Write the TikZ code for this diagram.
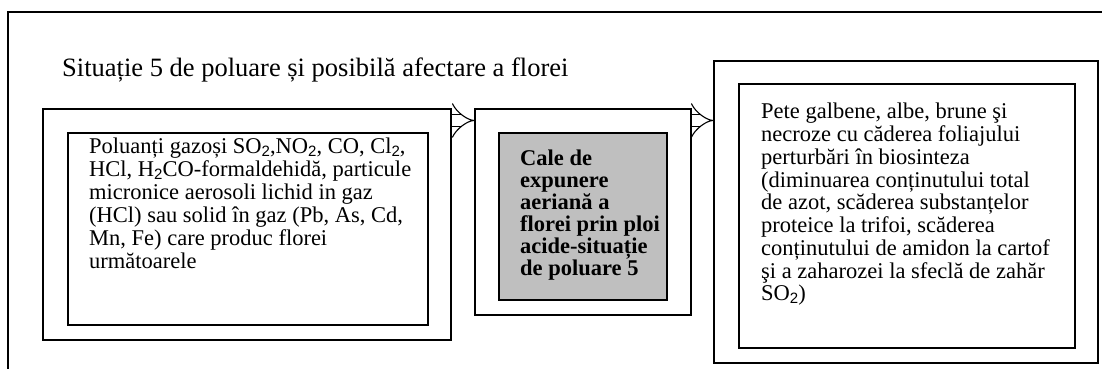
\documentclass[tikz,border=0pt]{standalone}
\usepackage{fontspec}
\setmainfont{Liberation Serif}
\newfontfamily\subfont{Liberation Sans}
\usetikzlibrary{arrows.meta}
\newcommand\chemsub[1]{\raisebox{-0.25ex}{\subfont\fontsize{15}{15}\selectfont #1}}
\begin{document}
\begin{tikzpicture}[x=1pt, y=-1pt,
    box/.style={draw, line width=1.1pt, inner sep=0pt},
    txt/.style={inner sep=0pt, align=left, anchor=north west},
    flow/.style={double, double distance=11.5pt, line width=1.1pt, -{Implies}}]
    \useasboundingbox (0,0) rectangle (1102,369);
    \draw[line width=1.1pt] (8,369) -- (8,12) -- (1102,12);
    \node[anchor=base west, inner sep=0pt, font=\fontsize{26.5}{30}\selectfont] (title) at (62,76)
        {Situație 5 de poluare și posibilă afectare a florei};

    \node[box, minimum width=408pt, minimum height=231pt] (src) at (247,224.5) {};
    \node[box, minimum width=360pt, minimum height=192pt] (srcin) at (248,229) {};
    \node[txt, font=\fontsize{22.5}{23}\selectfont] (srctxt) at (89,138)
        {Poluanți gazoși SO\chemsub{2},NO\chemsub{2}, CO, Cl\chemsub{2},\\
         HCl, H\chemsub{2}CO-formaldehidă, particule\\
         micronice aerosoli lichid in gaz\\
         (HCl) sau solid în gaz (Pb, As, Cd,\\
         Mn, Fe) care produc florei\\
         următoarele};

    \node[box, minimum width=216pt, minimum height=206pt] (path) at (583,212) {};
    \node[box, fill=gray!50, minimum width=168pt, minimum height=167pt] (pathin) at (583,216.5) {};
    \node[txt, font=\bfseries\fontsize{22.5}{22}\selectfont] (pathtxt) at (520,150)
        {Cale de\\
         expunere\\
         aeriană a\\
         florei prin ploi\\
         acide-situație\\
         de poluare 5};

    \node[box, minimum width=384pt, minimum height=302pt] (eff) at (906,212) {};
    \node[box, minimum width=336pt, minimum height=264pt] (effin) at (907,216) {};
    \node[txt, font=\fontsize{22.5}{22.75}\selectfont] (efftxt) at (761,103)
        {Pete galbene, albe, brune şi\\
         necroze cu căderea foliajului\\
         perturbări în biosinteza\\
         (diminuarea conținutului total\\
         de azot, scăderea substanțelor\\
         proteice la trifoi, scăderea\\
         conținutului de amidon la cartof\\
         şi a zaharozei la sfeclă de zahăr\\
         SO\chemsub{2})};

    \draw[flow] ([yshift=-12pt]src.north east) -- ([yshift=-12pt]src.north east -| path.west);
    \draw[flow] ([yshift=-12pt]path.north east) -- ([yshift=-12pt]path.north east -| eff.west);
\end{tikzpicture}
\end{document}
